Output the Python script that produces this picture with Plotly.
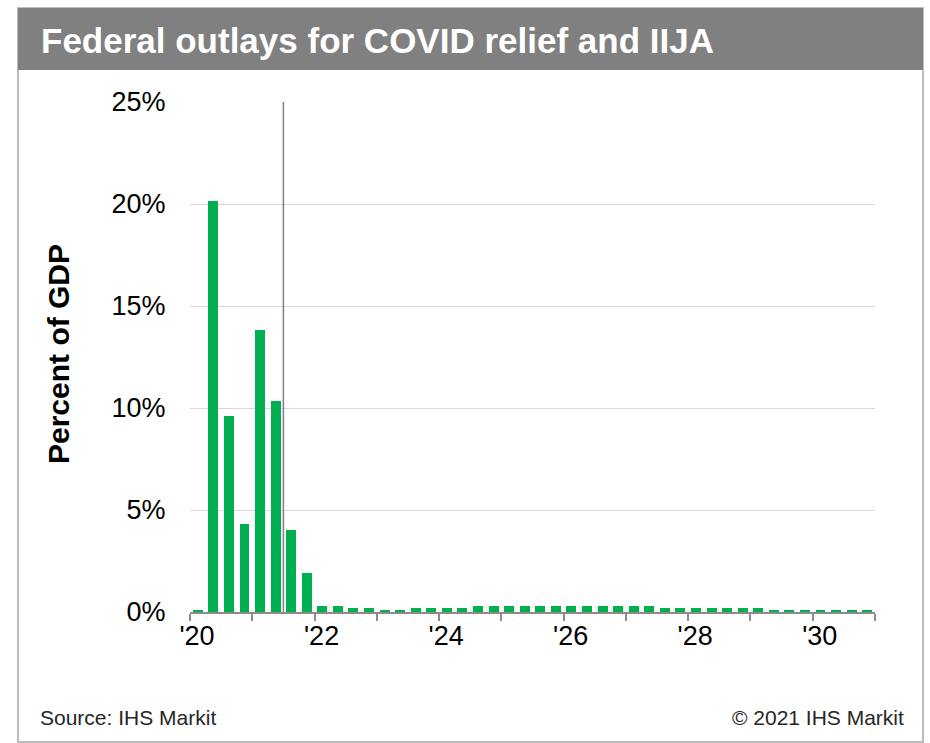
import plotly.graph_objects as go

# Quarterly federal outlays for COVID relief and IIJA, percent of GDP
periods = [f"{y}Q{q}" for y in range(2020, 2031) for q in range(1, 5)]
outlays_pct_gdp = [
    0.10, 20.15, 9.60, 4.30,   # 2020
    13.80, 10.35, 4.00, 1.90,  # 2021
    0.29, 0.29, 0.20, 0.20,    # 2022
    0.10, 0.10, 0.20, 0.20,    # 2023
    0.20, 0.20, 0.29, 0.29,    # 2024
    0.28, 0.28, 0.28, 0.28,    # 2025
    0.28, 0.28, 0.28, 0.28,    # 2026
    0.28, 0.28, 0.18, 0.18,    # 2027
    0.18, 0.18, 0.18, 0.18,    # 2028
    0.18, 0.08, 0.08, 0.08,    # 2029
    0.08, 0.08, 0.08, 0.08,    # 2030
]

year_ticks = list(range(2020, 2032))
year_labels = ["'20", "", "'22", "", "'24", "", "'26", "", "'28", "", "'30", ""]
y_ticks = [0, 5, 10, 15, 20, 25]
y_labels = ["0%", "5%", "10%", "15%", "20%", "25%"]

divider_year = 2021.5  # history / projection boundary

title_text = "Federal outlays for COVID relief and IIJA"
source_text = "Source: IHS Markit"
copyright_text = "© 2021 IHS Markit"

# place each quarter in the middle of its slot on a decimal-year axis
x_pos = [int(p[:4]) + (int(p[-1]) - 0.5) / 4 for p in periods]

FONT = "Liberation Sans, Arial, sans-serif"
GREEN = "#00b050"
W, H = 930, 743
L, R, T, B = 190, 55, 102, 131
PW, PH = W - L - R, H - T - B


def px_x(px):
    return (px - L) / PW


def px_y(py):
    return (H - B - py) / PH


fig = go.Figure()
fig.add_trace(go.Bar(
    x=x_pos,
    y=outlays_pct_gdp,
    width=0.16,
    marker=dict(color=GREEN, line=dict(width=0)),
    hovertemplate="%{y:.2f}%<extra></extra>",
))

shapes = [
    # outer frame
    dict(type="rect", xref="paper", yref="paper",
         x0=px_x(18), x1=px_x(923), y0=px_y(742), y1=px_y(8),
         line=dict(color="#a6a6a6", width=1.5), fillcolor="rgba(0,0,0,0)",
         layer="below"),
    # title band
    dict(type="rect", xref="paper", yref="paper",
         x0=px_x(18), x1=px_x(923), y0=px_y(70), y1=px_y(8),
         line=dict(width=0), fillcolor="#808080", layer="below"),
    # vertical divider
    dict(type="line", xref="x", yref="y",
         x0=divider_year, x1=divider_year, y0=0, y1=25,
         line=dict(color="#808080", width=1.5)),
]

annotations = [
    dict(text=f"<b>{title_text}</b>", xref="paper", yref="paper",
         x=px_x(39), y=px_y(41), xanchor="left", yanchor="middle",
         showarrow=False, font=dict(family=FONT, size=35, color="white")),
    dict(text="<b>Percent of GDP</b>", xref="paper", yref="paper",
         x=px_x(58), y=px_y(354), xanchor="center", yanchor="middle",
         textangle=-90, showarrow=False,
         font=dict(family=FONT, size=30, color="black")),
    dict(text=source_text, xref="paper", yref="paper",
         x=px_x(38), y=px_y(717), xanchor="left", yanchor="middle",
         showarrow=False, font=dict(family=FONT, size=21, color="#262626")),
    dict(text=copyright_text, xref="paper", yref="paper",
         x=px_x(906), y=px_y(717), xanchor="right", yanchor="middle",
         showarrow=False, font=dict(family=FONT, size=21, color="#262626")),
]

fig.update_layout(
    width=W, height=H,
    margin=dict(l=L, r=R, t=T, b=B, autoexpand=False),
    paper_bgcolor="white", plot_bgcolor="white",
    showlegend=False,
    bargap=0,
    shapes=shapes,
    annotations=annotations,
    font=dict(family=FONT, color="black"),
)

fig.update_xaxes(
    range=[2020, 2031],
    tickmode="array", tickvals=year_ticks, ticktext=year_labels,
    ticks="outside", ticklen=7, tickwidth=1.5, tickcolor="#8c8c8c",
    showline=True, linecolor="#8c8c8c", linewidth=1.5,
    showgrid=False, zeroline=False,
    tickfont=dict(family=FONT, size=27, color="black"),
    ticklabelshift=7, ticklabelstandoff=-8,
)

fig.update_yaxes(
    range=[0, 25],
    tickmode="array", tickvals=y_ticks, ticktext=y_labels,
    ticks="outside", ticklen=0, ticklabelstandoff=18,
    showgrid=True, gridcolor="#d9d9d9", gridwidth=1.2,
    showline=False, zeroline=False,
    tickfont=dict(family=FONT, size=27, color="black"),
)

fig.write_html("out.html")
